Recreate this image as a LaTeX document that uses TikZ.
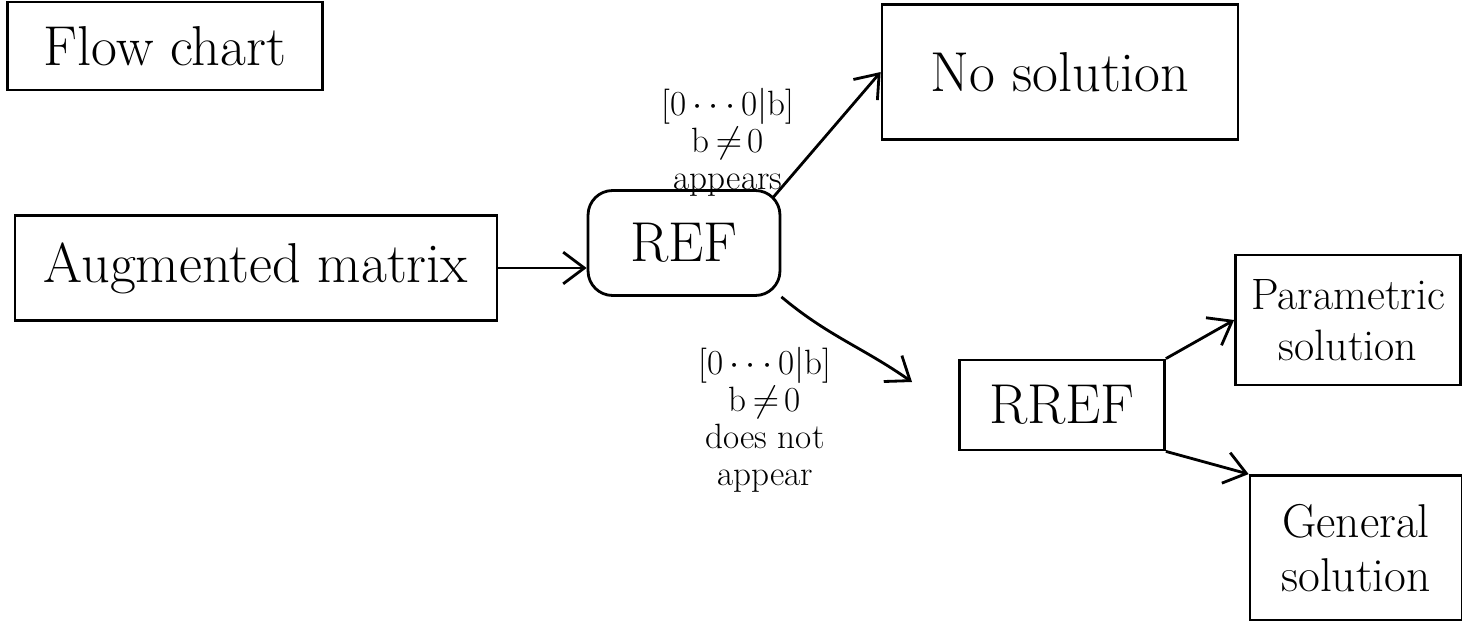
\documentclass[tikz,border=0pt]{standalone}
\usepackage{fontspec}
\usetikzlibrary{arrows.meta}
\tikzset{
  box/.style={draw, line width=1.6pt, inner sep=0pt, align=center},
  big/.style={font=\fontsize{32}{36}\selectfont},
  mid/.style={font=\fontsize{25}{29}\selectfont},
  midb/.style={font=\fontsize{27}{31}\selectfont},
  note/.style={font=\fontsize{20}{21}\selectfont, align=center, inner sep=0pt},
  flow/.style={line width=1.6pt, -{Straight Barb[length=12pt, width=18pt, line width=1.6pt]}}
}
\begin{document}
\begin{tikzpicture}[x=0.02cm, y=-0.02cm]
  \useasboundingbox (0,0) rectangle (1462,621);

  % title box
  \node[box, big, minimum width=6.3cm, minimum height=1.76cm] (title) at (165,46) {Flow chart};

  % main boxes
  \node[box, big, minimum width=9.64cm, minimum height=2.1cm] (aug) at (256,268) {Augmented matrix};
  \node[box, big, minimum width=3.84cm, minimum height=2.1cm, rounded corners=14pt] (ref) at (684,243) {REF};
  \node[box, big, minimum width=7.12cm, minimum height=2.7cm] (nosol) at (1060,72) {No solution};
  \node[box, big, minimum width=4.1cm, minimum height=1.8cm] (rref) at (1062,405) {RREF};
  \node[box, mid, minimum width=4.5cm, minimum height=2.6cm] (param) at (1348,320) {Parametric\\solution};
  \node[box, midb, minimum width=4.24cm, minimum height=2.9cm] (gen) at (1356,548) {General\\solution};

  % condition labels
  \node[note] (ltop) at (728,142) {[0\,$\cdots$\,0$|$b]\\ b\,$\neq$\,0\\ appears};
  \node[note] (lbot) at (765,420) {[0\,$\cdots$\,0$|$b]\\ b\,$\neq$\,0\\ does not\\ appear};

  % connectors
  \coordinate (rrefin) at (912,382);
  \draw[flow] (aug.east) -- (aug.east -| ref.west);
  \draw[flow] (ref.north east) ++(-8,8) coordinate (r1) -- (nosol.west);
  \draw[flow] (ref.south east) to[out=-40, in=145] (rrefin);
  \draw[flow] (rref.north east) -- (param.west);
  \draw[flow] (rref.south east) -- (gen.north west);
\end{tikzpicture}
\end{document}
